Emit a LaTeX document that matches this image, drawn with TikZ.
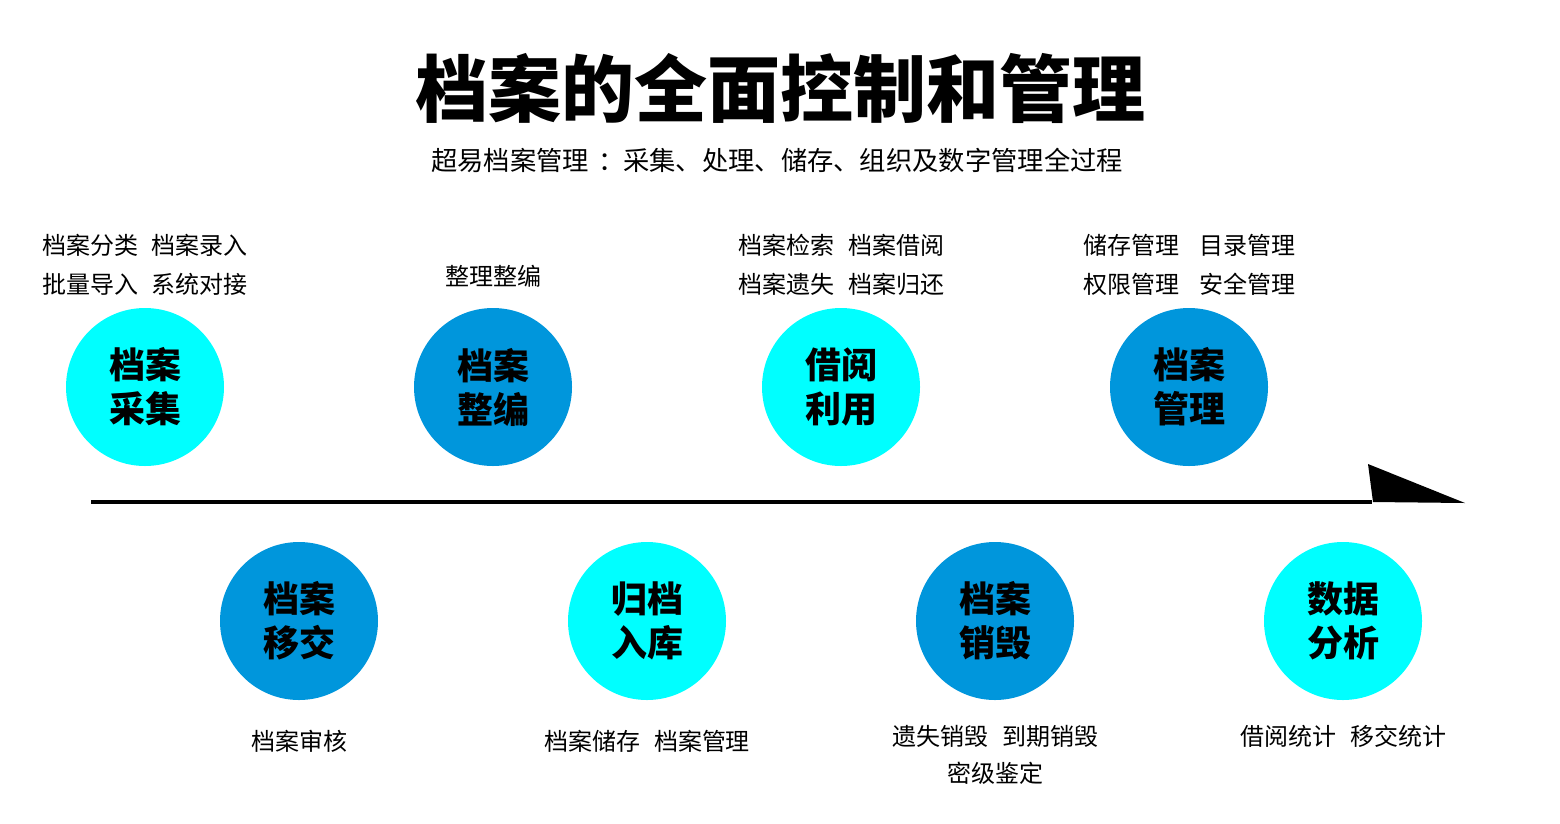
\documentclass[tikz,border=0pt]{standalone}
\usepackage{fontspec}
\setmainfont{Noto Sans CJK SC}
\definecolor{cyanc}{RGB}{0,255,255}
\definecolor{bluec}{RGB}{0,150,220}
\begin{document}
\begin{tikzpicture}[x=1pt,y=-1pt,
  circ/.style={circle,minimum size=158pt,inner sep=0pt,align=center,font=\fontsize{36}{44}\selectfont\bfseries},
  lab/.style={inner sep=0pt,anchor=center,font=\fontsize{24}{24}\selectfont}]
\useasboundingbox (0,0) rectangle (1560,823);
\fill[white] (0,0) rectangle (1560,823);
\node[inner sep=0pt,font=\fontsize{73}{73}\selectfont\bfseries] (title) at (780,88) {档案的全面控制和管理};
\node[inner sep=0pt,font=\fontsize{26.3}{27}\selectfont] (sub) at (777,160) {超易档案管理\hspace{10pt}：\hspace{-2pt}采集、处理、储存、组织及数字管理全过程};
% timeline
\coordinate (ls) at (91,502);
\coordinate (le) at (1372,502);
\draw[line width=4pt] (ls) -- (le);
\coordinate (a1) at (1368,464);
\coordinate (a2) at (1373,502);
\coordinate (a3) at (1465,503);
\fill (a1) -- (a2) -- (a3) -- cycle;
% top circles
\node[circ,fill=cyanc] (c1) at (145,387) {档案\\采集};
\node[circ,fill=bluec] (c2) at (493,387) {档案\\整编};
\node[circ,fill=cyanc] (c3) at (841,387) {借阅\\利用};
\node[circ,fill=bluec] (c4) at (1189,387) {档案\\管理};
% bottom circles
\node[circ,fill=bluec] (c5) at (299,621) {档案\\移交};
\node[circ,fill=cyanc] (c6) at (647,621) {归档\\入库};
\node[circ,fill=bluec] (c7) at (995,621) {档案\\销毁};
\node[circ,fill=cyanc] (c8) at (1343,621) {数据\\分析};
% labels
\node[lab] (t1a) at (145,245) {档案分类\hspace{14pt}档案录入};
\node[lab] (t1b) at (145,284) {批量导入\hspace{14pt}系统对接};
\node[lab] (t2a) at (493,276) {整理整编};
\node[lab] (t3a) at (841,245) {档案检索\hspace{14pt}档案借阅};
\node[lab] (t3b) at (841,284) {档案遗失\hspace{14pt}档案归还};
\node[lab] (t4a) at (1189,245) {储存管理\hspace{20pt}目录管理};
\node[lab] (t4b) at (1189,284) {权限管理\hspace{20pt}安全管理};
\node[lab] (b1a) at (299,741) {档案审核};
\node[lab] (b2a) at (647,741) {档案储存\hspace{14pt}档案管理};
\node[lab] (b3a) at (995,736) {遗失销毁\hspace{14pt}到期销毁};
\node[lab] (b3b) at (995,773) {密级鉴定};
\node[lab] (b4a) at (1343,736) {借阅统计\hspace{14pt}移交统计};
\end{tikzpicture}
\end{document}
